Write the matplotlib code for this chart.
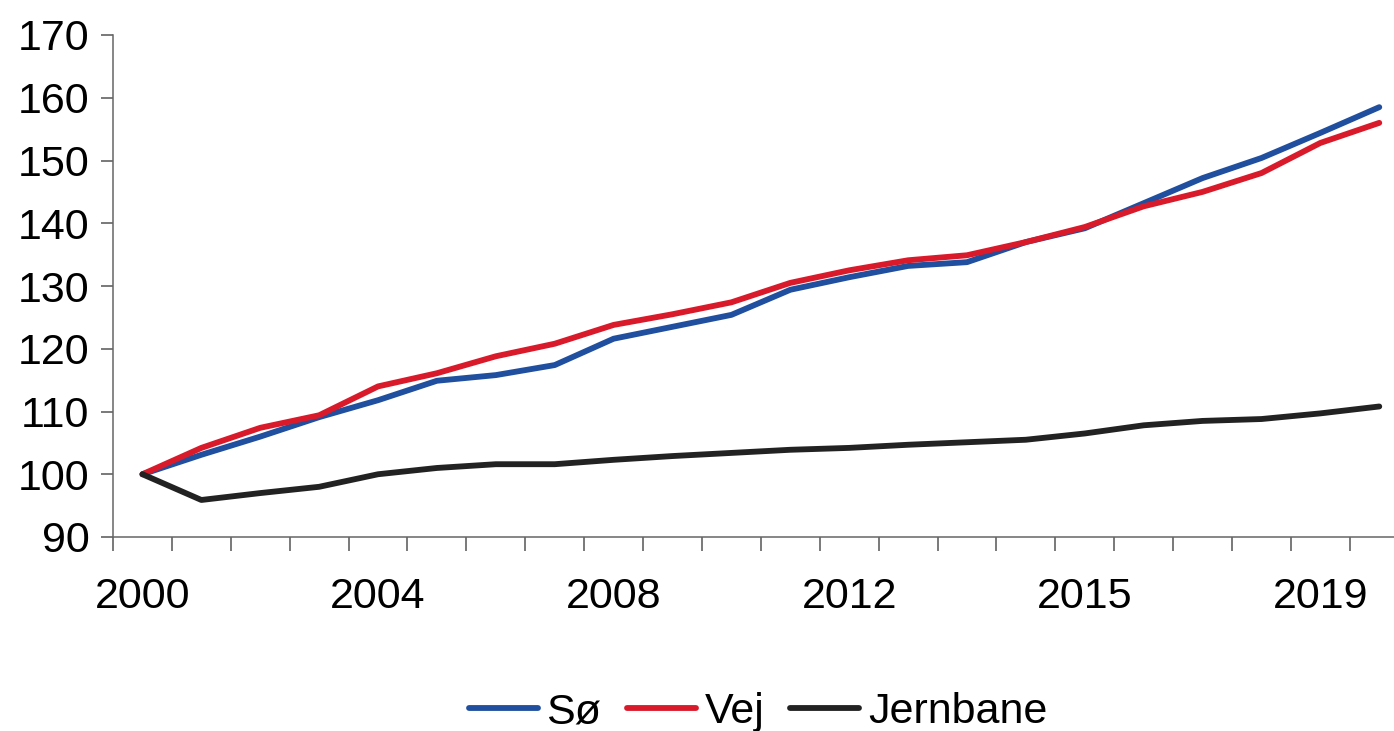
import numpy as np
import matplotlib
matplotlib.use("Agg")
import matplotlib.pyplot as plt

plt.rcParams['font.family'] = ['Liberation Sans', 'DejaVu Sans']

# index values (2000 = 100), 22 periods
so = [100, 103.1, 106.0, 109.1, 111.8, 114.9, 115.8, 117.4, 121.6, 123.5, 125.4,
      129.4, 131.4, 133.2, 133.8, 137.0, 139.2, 143.2, 147.2, 150.4, 154.4, 158.5]
vej = [100, 104.2, 107.4, 109.4, 114.0, 116.1, 118.8, 120.8, 123.8, 125.5, 127.4,
       130.5, 132.5, 134.1, 134.9, 137.0, 139.4, 142.7, 145.0, 148.0, 152.8, 156.0]
jernbane = [100, 95.9, 97.0, 98.0, 100.0, 101.0, 101.6, 101.6, 102.3, 102.9, 103.4,
            103.9, 104.2, 104.7, 105.1, 105.5, 106.5, 107.8, 108.5, 108.8, 109.7, 110.8]

tick_labels = ['2000', '2004', '2008', '2012', '2015', '2019']
tick_idx = [0, 4, 8, 12, 16, 20]
y_ticks = [90, 100, 110, 120, 130, 140, 150, 160, 170]

x = np.arange(len(so))

fig = plt.figure(figsize=(13.94, 7.31), dpi=100)
ax = fig.add_axes([113 / 1394, 1 - 537 / 731, 1 - 113 / 1394, (537 - 35) / 731])

ax.plot(x, so, color='#1f4f9e', lw=4.2, label='Sø', solid_capstyle='round')
ax.plot(x, vej, color='#d91a2a', lw=4.2, label='Vej', solid_capstyle='round')
ax.plot(x, jernbane, color='#222222', lw=4.2, label='Jernbane', solid_capstyle='round')

ax.set_ylim(90, 170)
ax.set_xlim(-0.5, 21.25)

ax.set_yticks(y_ticks)
ax.tick_params(axis='y', labelsize=31, length=9, width=1.1, color='#555555', pad=8)

# tick marks between categories, labels on categories
ax.set_xticks(np.arange(-0.5, 21.0, 1.0))
ax.set_xticklabels([])
ax.set_xticks(tick_idx, labels=tick_labels, minor=True)
ax.tick_params(axis='x', which='major', length=10, width=1.1, color='#555555')
ax.tick_params(axis='x', which='minor', length=0, labelsize=31, pad=29)

for s in ['top', 'right']:
    ax.spines[s].set_visible(False)
for s in ['left', 'bottom']:
    ax.spines[s].set_color('#666666')
    ax.spines[s].set_linewidth(1.1)

fig.legend(loc='center', bbox_to_anchor=(758 / 1394, 1 - 712 / 731), ncol=3,
           frameon=False, fontsize=31, handlelength=1.6, handletextpad=0.2,
           columnspacing=0.6)

fig.savefig('out.png', dpi=100)
